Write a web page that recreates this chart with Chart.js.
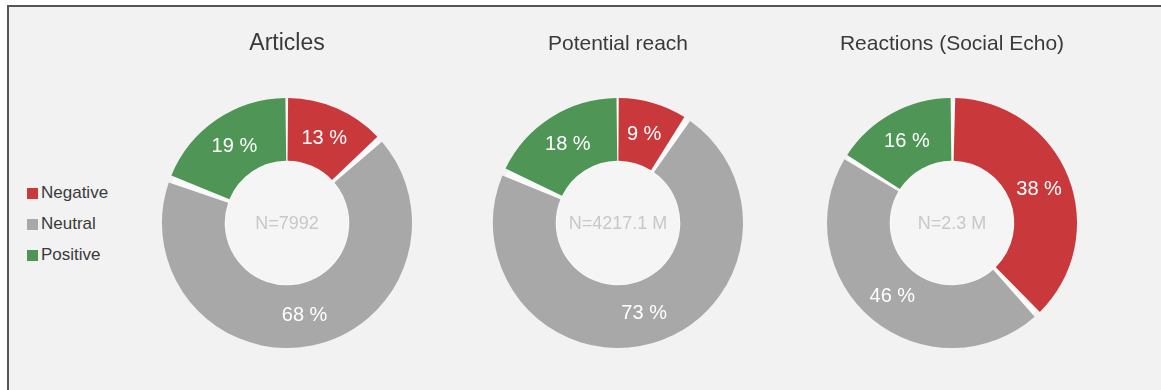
<!DOCTYPE html>
<html>
<head>
<meta charset="utf-8">
<script src="https://cdn.jsdelivr.net/npm/chart.js@4.4.1/dist/chart.umd.min.js"></script>
<style>
  html, body { margin: 0; padding: 0; background: #ffffff; }
  body { width: 1161px; height: 390px; position: relative; overflow: hidden;
         font-family: "Liberation Sans", Arial, sans-serif; }
  #panel { position: absolute; left: 7px; top: 5px; width: 1154px; height: 385px;
           background: #f2f2f2; border-top: 2px solid #555; border-left: 2px solid #555;
           box-sizing: border-box; }
  .pie { position: absolute; top: 0; height: 390px; }
  #legend { position: absolute; left: 27px; top: 182px; }
  #legend div { height: 31px; line-height: 22px; font-size: 17px; color: #3a3a3a; white-space: nowrap; }
  #legend span { display: inline-block; width: 11px; height: 11px; margin-right: 3px; vertical-align: -1px; }
</style>
</head>
<body>
<div id="panel"></div>
<div id="legend"></div>
<canvas id="c1" class="pie" width="300" height="390" style="left:137px;width:300px"></canvas>
<canvas id="c2" class="pie" width="300" height="390" style="left:468px;width:300px"></canvas>
<canvas id="c3" class="pie" width="326" height="390" style="left:802px;width:326px"></canvas>
<script>
// Sentiment categories and their colours
const categories = ['Negative', 'Neutral', 'Positive'];
const sentimentColors = ['#c9393b', '#a8a8a8', '#4f9656'];

// Share of each sentiment, in percent
const articlesShare = [13, 68, 19];
const reachShare = [9, 73, 18];
const reactionsShare = [38, 46, 16];

// Titles and totals shown in each ring
const chartTitles = ['Articles', 'Potential reach', 'Reactions (Social Echo)'];
const totals = ['N=7992', 'N=4217.1 M', 'N=2.3 M'];

const FONT = '"Liberation Sans", Arial, sans-serif';

// Legend
const legendEl = document.getElementById('legend');
categories.forEach((name, i) => {
  const row = document.createElement('div');
  const sw = document.createElement('span');
  sw.style.background = sentimentColors[i];
  row.appendChild(sw);
  row.appendChild(document.createTextNode(name));
  legendEl.appendChild(row);
});

// Light ring behind the arcs so the gaps between slices read as white
const ringBackdrop = {
  id: 'ringBackdrop',
  beforeDatasetsDraw(chart) {
    const arc = chart.getDatasetMeta(0).data[0];
    if (!arc) return;
    const { x, y, innerRadius, outerRadius } = arc.getProps(['x', 'y', 'innerRadius', 'outerRadius'], true);
    const ctx = chart.ctx;
    ctx.save();
    ctx.beginPath();
    ctx.arc(x, y, outerRadius - 1, 0, Math.PI * 2);
    ctx.arc(x, y, innerRadius + 1, 0, Math.PI * 2, true);
    ctx.fillStyle = '#fafafa';
    ctx.fill();
    ctx.beginPath();
    ctx.arc(x, y, innerRadius + 1, 0, Math.PI * 2);
    ctx.fillStyle = '#f5f5f5';
    ctx.fill();
    ctx.restore();
  }
};

// Percentage labels on each arc, plus the total in the hole
const ringText = {
  id: 'ringText',
  afterDatasetsDraw(chart, args, opts) {
    const ctx = chart.ctx;
    const meta = chart.getDatasetMeta(0);
    const values = chart.data.datasets[0].data;
    ctx.save();
    ctx.textAlign = 'center';
    ctx.textBaseline = 'middle';
    ctx.fillStyle = '#ffffff';
    ctx.font = '20px ' + FONT;
    meta.data.forEach((arc, i) => {
      const p = arc.getCenterPoint();
      ctx.fillText(values[i] + ' %', p.x, p.y + 1);
    });
    const a = chart.chartArea;
    ctx.fillStyle = '#c8c8c8';
    ctx.font = '18px ' + FONT;
    ctx.fillText(opts.total, (a.left + a.right) / 2, (a.top + a.bottom) / 2 + 1);
    ctx.restore();
  }
};

function makeRing(id, title, values, total, titleSize, padRight) {
  const lh = 1.2;
  const titleTop = 44 - titleSize * lh / 2;
  const titleBottom = 96 - titleTop - titleSize * lh;
  new Chart(document.getElementById(id), {
    type: 'doughnut',
    data: {
      labels: categories,
      datasets: [{
        data: values,
        backgroundColor: sentimentColors,
        borderWidth: 0,
        spacing: 4,
        hoverOffset: 0
      }]
    },
    options: {
      responsive: false,
      animation: false,
      radius: 123,
      cutout: '49%',
      layout: { padding: { left: 0, right: padRight, bottom: 40, top: 0 } },
      events: [],
      plugins: {
        legend: { display: false },
        tooltip: { enabled: false },
        title: {
          display: true,
          text: title,
          color: '#3a3a3a',
          font: { family: FONT, size: titleSize, weight: 'normal', lineHeight: lh },
          padding: { top: titleTop, bottom: titleBottom }
        },
        ringText: { total: total }
      }
    },
    plugins: [ringBackdrop, ringText]
  });
}

makeRing('c1', chartTitles[0], articlesShare, totals[0], 23, 0);
makeRing('c2', chartTitles[1], reachShare, totals[1], 21, 0);
makeRing('c3', chartTitles[2], reactionsShare, totals[2], 21, 26);
</script>
</body>
</html>
